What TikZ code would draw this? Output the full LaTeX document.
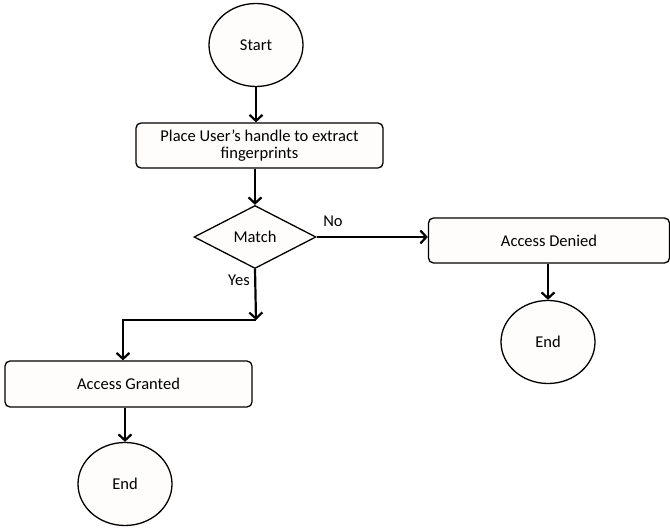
\documentclass[tikz,border=0pt]{standalone}
\usepackage{fontspec}
\setmainfont{Carlito}
\usetikzlibrary{arrows.meta,shapes.geometric}
\definecolor{boxfill}{RGB}{255,252,252}
\begin{document}
\begin{tikzpicture}[x=1pt,y=-1pt,
  every node/.style={font=\fontsize{16.5}{19}\selectfont},
  term/.style={draw,ellipse,line width=1.3pt,fill=boxfill,minimum width=94pt,minimum height=83pt,inner sep=0pt},
  procbox/.style={draw,rounded corners=5pt,line width=1.3pt,fill=boxfill,inner sep=0pt,align=center},
  decide/.style={draw,diamond,line width=1.3pt,fill=boxfill,aspect=1.95,minimum width=122pt,minimum height=63pt,inner sep=0pt},
  conn/.style={line width=2.2pt,-{Straight Barb[length=6pt,width=13pt,line width=2.2pt]}},
  lbl/.style={inner sep=0pt}]
\useasboundingbox (0,0) rectangle (670,529);
\node[term] (start) at (256,45) {Start};
\node[procbox,minimum width=247pt,minimum height=45pt] (place) at (259.5,145.5) {Place User’s handle to extract\\[-2pt]fingerprints};
\node[decide] (match) at (255,237) {Match};
\node[procbox,minimum width=241pt,minimum height=45pt] (denied) at (549,240.5) {Access Denied};
\node[term] (end2) at (548,342) {End};
\node[procbox,minimum width=247pt,minimum height=46pt] (granted) at (128.5,384) {Access Granted};
\node[term] (end1) at (125,484) {End};
\coordinate (c1) at (256,320);
\coordinate (c2) at (123,320);
\draw[conn] (start.south) -- (start.south |- place.north);
\draw[conn] (match.north |- place.south) -- (match.north);
\draw[conn] (match.east) -- (denied.west |- match.east);
\draw[conn] (match.south) -- (c1);
\draw[line width=2.2pt] (c1) -- (c2) -- ++(0,-1.1);
\draw[conn] (c2) -- (c2 |- granted.north);
\draw[conn] (denied.south -| end2.north) -- (end2.north);
\draw[conn] (granted.south -| end1.north) -- (end1.north);
\node[lbl] (no) at (333,221) {No};
\node[lbl] (yes) at (239,280) {Yes};
\end{tikzpicture}
\end{document}
